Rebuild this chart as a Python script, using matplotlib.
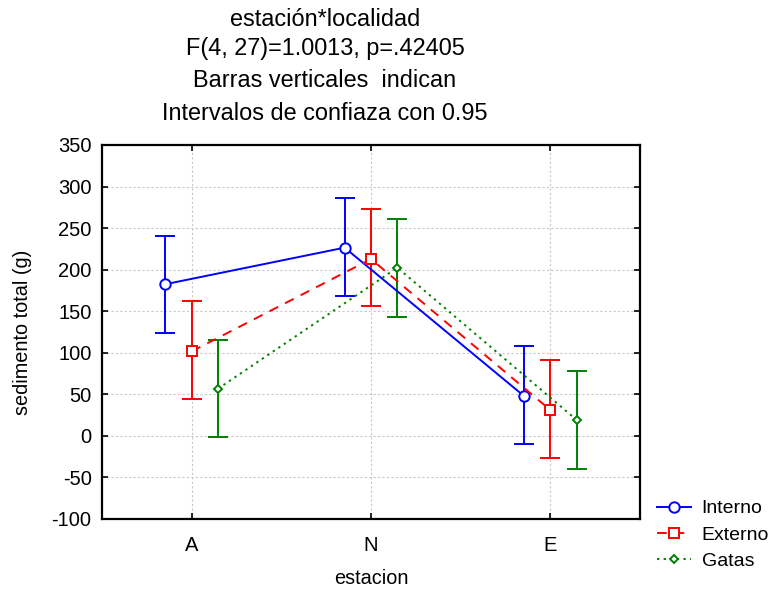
import matplotlib
matplotlib.use("Agg")
import matplotlib.pyplot as plt
import numpy as np

plt.rcParams['font.family'] = ['Liberation Sans', 'DejaVu Sans']
plt.rcParams['axes.unicode_minus'] = False

categories = ["A", "N", "E"]
series = ["Interno", "Externo", "Gatas"]
interno_mean = [182.5, 226.5, 48.0]
interno_low = [123.5, 168.5, -10.0]
interno_high = [241.0, 286.0, 108.0]
externo_mean = [101.7, 212.8, 31.1]
externo_low = [44.3, 156.0, -26.3]
externo_high = [162.0, 273.5, 91.3]
gatas_mean = [56.8, 202.4, 19.1]
gatas_low = [-1.7, 143.0, -39.5]
gatas_high = [115.3, 260.6, 78.0]

y_ticks = [-100, -50, 0, 50, 100, 150, 200, 250, 300, 350]

fig = plt.figure(figsize=(7.72, 5.90), dpi=100)
ax = fig.add_axes([102/772, 1-519/590, (640-102)/772, (519-145)/590])

x = np.arange(len(categories))
offsets = [-0.147, 0.0, 0.147]
means = [interno_mean, externo_mean, gatas_mean]
lows = [interno_low, externo_low, gatas_low]
highs = [interno_high, externo_high, gatas_high]
colors = ["#0000ff", "#ff0000", "#008000"]
styles = ["-", (0, (5, 4)), (0, (1.2, 2.2))]
markers = ["o", "s", "D"]
msizes = [7.5, 7.5, 4.5]

handles = []
for i, name in enumerate(series):
    m = np.array(means[i])
    lo = np.array(lows[i])
    hi = np.array(highs[i])
    xx = x + offsets[i]
    ax.errorbar(xx, m, yerr=[m - lo, hi - m], fmt="none", ecolor=colors[i],
                elinewidth=1.4, capsize=7, capthick=1.4, zorder=3)
    h, = ax.plot(xx, m, linestyle=styles[i], color=colors[i], lw=1.4,
                 marker=markers[i], markersize=msizes[i], markerfacecolor="white",
                 markeredgecolor=colors[i], markeredgewidth=1.4, label=name, zorder=4)
    handles.append(h)

ax.set_xlim(-0.5, 2.5)
ax.set_ylim(-100, 350)
ax.set_xticks(x)
ax.set_xticklabels(categories)
ax.set_yticks(y_ticks)
ax.tick_params(direction="in", length=4.5, width=1.2, top=True, right=True,
               labelsize=14.5)
ax.tick_params(axis="y", pad=7.5)
ax.tick_params(axis="x", pad=12)
ax.grid(True, color="#c8c8c8", linestyle=(0, (2, 2)), linewidth=0.8)
ax.set_axisbelow(True)
for s in ax.spines.values():
    s.set_linewidth(1.6)

ax.set_xlabel("estacion", fontsize=14.3)
ax.xaxis.set_label_coords(0.5, -(569 - 519) / 374)
ax.set_ylabel("sedimento total (g)", fontsize=14.3)
ax.yaxis.set_label_coords(-(102 - 32) / 538, 0.5)

title_lines = ["estación*localidad", "F(4, 27)=1.0013, p=.42405",
               "Barras verticales  indican", "Intervalos de confiaza con 0.95"]
title_y = [20, 49, 81, 113]
for t, yy in zip(title_lines, title_y):
    fig.text(325/772, 1 - yy/590, t, ha="center", va="center", fontsize=16.9)

fig.legend(handles=handles, labels=series, loc="center left",
           bbox_to_anchor=(657/772, 1 - 535/590), frameon=False,
           fontsize=14, handlelength=1.75, handletextpad=0.55, labelspacing=0.45,
           borderaxespad=0, borderpad=0)

fig.savefig("out.png", dpi=100)
